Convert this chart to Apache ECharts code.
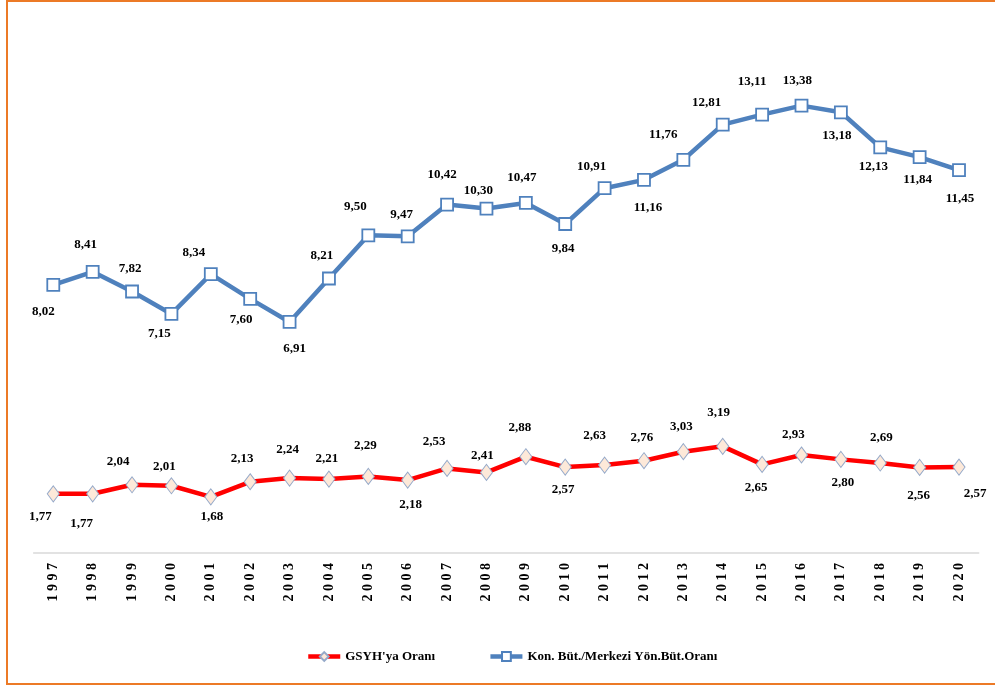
<!DOCTYPE html>
<html>
<head>
<meta charset="utf-8">
<script src="https://cdn.jsdelivr.net/npm/echarts@6/dist/echarts.min.js"></script>
<style>
  html, body { margin: 0; padding: 0; background: #fff; }
  #chart { position: absolute; left: 0; top: 0; width: 995px; height: 686px; }
  #frame {
    position: absolute; left: 6px; top: 0; width: 1000px; height: 685px;
    box-sizing: border-box; border: 2.5px solid #ec7a26; pointer-events: none;
  }
</style>
</head>
<body>
<div id="chart"></div>
<div id="frame"></div>
<script>
const years = ['1997', '1998', '1999', '2000', '2001', '2002', '2003', '2004',
  '2005', '2006', '2007', '2008', '2009', '2010', '2011', '2012', '2013',
  '2014', '2015', '2016', '2017', '2018', '2019', '2020']

// Kon. Büt./Merkezi Yön.Büt.Oranı
const budgetRatio = [8.02, 8.41, 7.82, 7.15, 8.34, 7.60, 6.91, 8.21, 9.50, 9.47,
  10.42, 10.30, 10.47, 9.84, 10.91, 11.16, 11.76, 12.81, 13.11, 13.38, 13.18,
  12.13, 11.84, 11.45]

// GSYH'ya Oranı
const gdpRatio = [1.77, 1.77, 2.04, 2.01, 1.68, 2.13, 2.24, 2.21, 2.29, 2.18,
  2.53, 2.41, 2.88, 2.57, 2.63, 2.76, 3.03, 3.19, 2.65, 2.93, 2.80, 2.69,
  2.56, 2.57]

// label placement (dx, dy from the marker), as in the source picture
const budgetLabelOffset = [[-10, 27], [-7, -27], [-2, -23], [-12, 20], [-17, -21],
  [-9, 21], [5, 27], [-7, -23], [-13, -29], [-6, -22], [-5, -30], [-8, -18],
  [-4, -25], [-2, 25], [-13, -22], [4, 28], [-20, -25], [-16, -22], [-10, -33],
  [-4, -25], [-4, 23], [-7, 19], [-2, 23], [1, 28]]

const gdpLabelOffset = [[-13, 23], [-11, 30], [-14, -23], [-7, -19], [1, 20],
  [-8, -23], [-2, -28], [-2, -20], [-3, -31], [3, 25], [-13, -27], [-4, -17],
  [-6, -29], [-2, 23], [-10, -29], [-2, -23], [-2, -25], [-4, -34], [-6, 23],
  [-8, -20], [2, 23], [1, -25], [-1, 28], [16, 27]]

const serif = '"Liberation Serif", "Times New Roman", serif'

function withLabels(values, offsets) {
  return values.map((v, i) => ({
    value: v,
    label: { offset: offsets[i] }
  }))
}

function fmt(p) {
  return p.value.toFixed(2).replace('.', ',')
}

const chart = echarts.init(document.getElementById('chart'))

chart.setOption({
  backgroundColor: '#fff',
  animation: false,
  grid: {
    left: 33.6,
    right: 16.3,
    top: 18,
    bottom: 133
  },
  legend: {
    left: 301,
    top: 645,
    itemWidth: 32,
    itemHeight: 11,
    itemGap: 53,
    lineStyle: { width: 4.5 },
    data: ["GSYH'ya Oranı", 'Kon. Büt./Merkezi Yön.Büt.Oranı'],
    textStyle: {
      fontFamily: serif,
      fontWeight: 'bold',
      fontSize: 13,
      color: '#000'
    }
  },
  xAxis: {
    type: 'category',
    data: years,
    axisLine: { lineStyle: { color: '#d9d9d9', width: 1.5 } },
    axisTick: { show: false },
    axisLabel: {
      rotate: 90,
      margin: 10,
      interval: 0,
      fontFamily: serif,
      fontWeight: 'bold',
      fontSize: 14,
      color: '#000',
      formatter: (v) => v.split('').join(' ')
    }
  },
  yAxis: {
    type: 'value',
    min: 0,
    max: 16,
    show: false,
    splitLine: { show: false }
  },
  series: [
    {
      name: "GSYH'ya Oranı",
      type: 'line',
      data: withLabels(gdpRatio, gdpLabelOffset),
      symbol: 'diamond',
      symbolSize: [12, 16],
      lineStyle: { color: '#ff0000', width: 4.5 },
      itemStyle: { color: '#fde9d9', borderColor: '#95a9c9', borderWidth: 1 },
      label: {
        show: true,
        position: 'inside',
        formatter: fmt,
        fontFamily: serif,
        fontWeight: 'bold',
        fontSize: 13,
        color: '#000'
      },
      z: 3
    },
    {
      name: 'Kon. Büt./Merkezi Yön.Büt.Oranı',
      type: 'line',
      data: withLabels(budgetRatio, budgetLabelOffset),
      symbol: 'rect',
      symbolSize: 12,
      lineStyle: { color: '#4f81bd', width: 4.5 },
      itemStyle: { color: '#fff', borderColor: '#4f81bd', borderWidth: 1.8 },
      label: {
        show: true,
        position: 'inside',
        formatter: fmt,
        fontFamily: serif,
        fontWeight: 'bold',
        fontSize: 13,
        color: '#000'
      },
      z: 3
    }
  ]
})
</script>
</body>
</html>
